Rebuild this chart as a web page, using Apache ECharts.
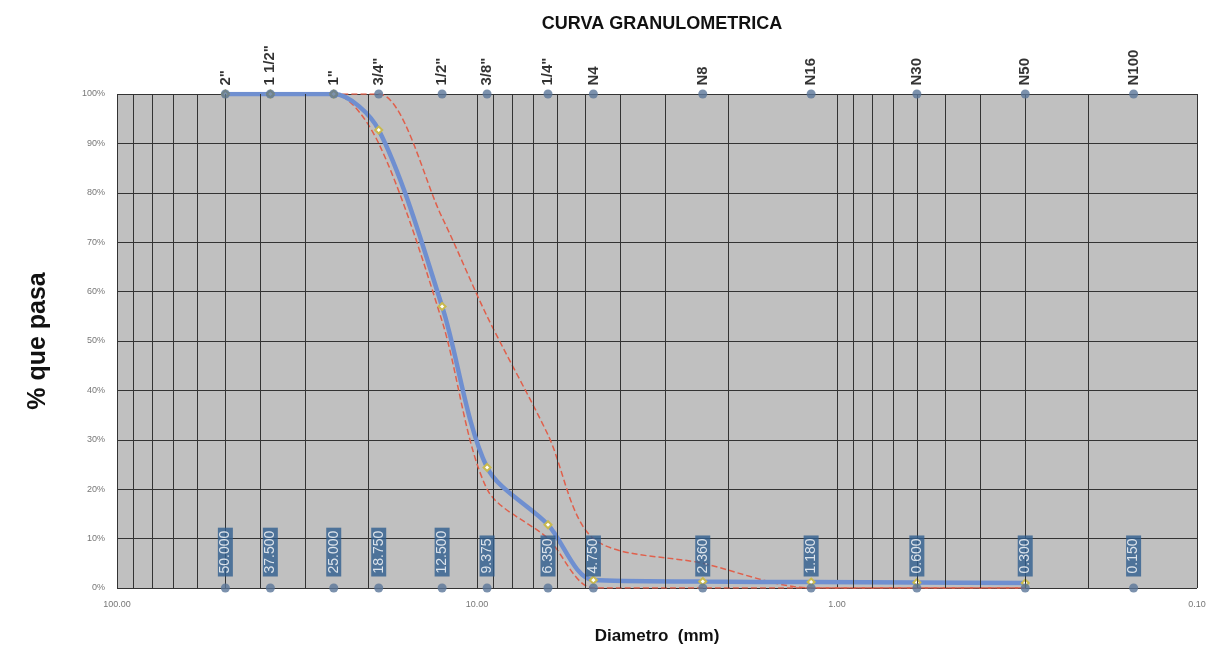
<!DOCTYPE html>
<html>
<head>
<meta charset="utf-8">
<script src="https://cdn.jsdelivr.net/npm/echarts@6/dist/echarts.min.js"></script>
<style>
html,body{margin:0;padding:0;background:#fff;}
#chart{width:1212px;height:650px;}
</style>
</head>
<body>
<div id="chart"></div>
<script>
// tamices (abertura en mm) y su designacion
var sieveMm = [50.0, 37.5, 25.0, 18.75, 12.5, 9.375, 6.35, 4.75, 2.36, 1.18, 0.6, 0.3, 0.15];
var sieveNames = ['2"', '1 1/2"', '1"', '3/4"', '1/2"', '3/8"', '1/4"', 'N4', 'N8', 'N16', 'N30', 'N50', 'N100'];

// % que pasa de la muestra (hasta N50)
var muestraMm = [50.0, 37.5, 25.0, 18.75, 12.5, 9.375, 6.35, 4.75, 2.36, 1.18, 0.6, 0.3];
var muestraPasa = [100, 100, 100, 92.7, 57, 24.4, 12.8, 1.6, 1.3, 1.2, 1.1, 1.0];

// limites del huso
var limSupMm = [50.0, 37.5, 25.0, 18.75, 12.5, 9.375, 6.35, 4.75, 2.36, 1.18, 0.6, 0.3];
var limSupPasa = [100, 100, 100, 100, 75, 55, 31, 10, 5, 0, 0, 0];
var limInfMm = [50.0, 37.5, 25.0, 18.75, 12.5, 9.375, 6.35, 4.75, 2.36, 1.18, 0.6, 0.3];
var limInfPasa = [100, 100, 100, 90, 54, 20, 10, 0, 0, 0, 0, 0];

// lineas secundarias de la escala logaritmica
var minorLines = [90, 80, 70, 60, 50, 40, 30, 20, 9, 8, 7, 6, 5, 4, 3, 2, 0.9, 0.8, 0.7, 0.6, 0.5, 0.4, 0.3, 0.2];

function pairs(xs, ys) {
    var out = [];
    for (var i = 0; i < xs.length; i++) out.push([xs[i], ys[i]]);
    return out;
}

var myChart = echarts.init(document.getElementById('chart'));
var font = '"Liberation Sans", Arial, sans-serif';
var option = {
    animation: false,
    textStyle: { fontFamily: font },
    title: {
        text: 'CURVA GRANULOMETRICA',
        left: 657,
        top: 10,
        textAlign: 'center',
        textStyle: { fontSize: 18, fontWeight: 'bold', color: '#111', fontFamily: font }
    },
    grid: { left: 117, right: 15, top: 94, bottom: 62, backgroundColor: '#c0c0c0', show: true, borderWidth: 0 },
    xAxis: {
        type: 'log',
        logBase: 10,
        min: 0.1,
        max: 100,
        inverse: true,
        name: 'Diametro  (mm)',
        nameLocation: 'middle',
        nameGap: 40,
        nameTextStyle: { fontSize: 17, fontWeight: 'bold', color: '#111' },
        axisLine: { show: false },
        axisTick: { show: false },
        axisLabel: {
            margin: 12, fontSize: 9, color: '#777',
            formatter: function (v) { return v.toFixed(2); }
        },
        splitLine: { show: true, lineStyle: { color: '#333', width: 1 } }
    },
    yAxis: {
        type: 'value',
        min: 0,
        max: 100,
        interval: 10,
        name: '% que pasa',
        nameLocation: 'middle',
        nameGap: 66,
        nameTextStyle: { fontSize: 25, fontWeight: 'bold', color: '#111' },
        axisLine: { show: false },
        axisTick: { show: false },
        axisLabel: { fontSize: 9, color: '#777', margin: 12, formatter: '{value}%' },
        splitLine: { show: true, lineStyle: { color: '#333', width: 1 } }
    },
    series: [
        {
            type: 'scatter',
            silent: true,
            data: [],
            markLine: {
                silent: true,
                symbol: 'none',
                label: { show: false },
                lineStyle: { color: '#333', width: 1, type: 'solid' },
                data: minorLines.map(function (v) { return { xAxis: v }; })
            }
        },
        {
            name: 'Limite superior',
            type: 'line',
            smooth: 0.3,
            symbol: 'none',
            lineStyle: { color: '#e0604c', width: 1.5, type: 'dashed' },
            data: pairs(limSupMm, limSupPasa)
        },
        {
            name: 'Limite inferior',
            type: 'line',
            smooth: 0.3,
            symbol: 'none',
            lineStyle: { color: '#e0604c', width: 1.5, type: 'dashed' },
            data: pairs(limInfMm, limInfPasa)
        },
        {
            name: 'Muestra',
            type: 'line',
            smooth: 0.3,
            symbol: 'emptyDiamond',
            symbolSize: 7,
            itemStyle: { color: '#c9b94e', borderWidth: 1 },
            lineStyle: { color: '#6f8fd0', width: 4.5 },
            data: pairs(muestraMm, muestraPasa)
        },
        {
            name: 'Tamices',
            type: 'scatter',
            symbolSize: 9,
            clip: false,
            z: 5,
            itemStyle: { color: '#5a7599' },
            label: {
                show: true,
                position: 'top',
                distance: 4,
                rotate: 90,
                align: 'left',
                verticalAlign: 'middle',
                fontSize: 15,
                fontWeight: 'bold',
                color: '#000',
                formatter: function (p) { return sieveNames[p.dataIndex]; }
            },
            data: sieveMm.map(function (v) { return [v, 100]; })
        },
        {
            name: 'Aberturas',
            type: 'scatter',
            symbolSize: 9,
            clip: false,
            z: 5,
            itemStyle: { color: '#5a7599' },
            label: {
                show: true,
                position: 'top',
                distance: 7,
                rotate: 90,
                align: 'left',
                verticalAlign: 'middle',
                fontSize: 14,
                color: '#fff',
                backgroundColor: '#2f5e8e',
                padding: [1, 3, 0, 3],
                formatter: function (p) { return p.value[0].toFixed(3); }
            },
            data: sieveMm.map(function (v) { return [v, 0]; })
        }
    ]
};
myChart.setOption(option, true);
</script>
</body>
</html>
